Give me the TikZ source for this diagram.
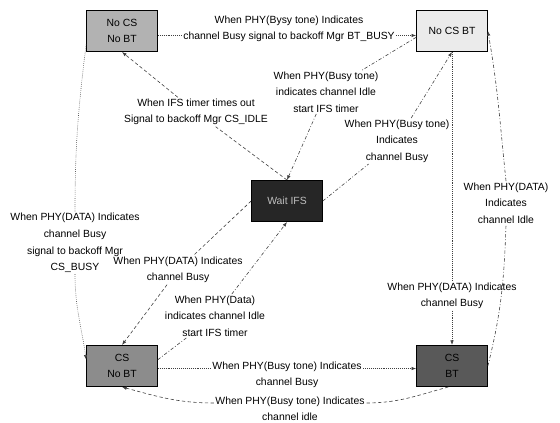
\documentclass[tikz,border=0pt]{standalone}
\usepackage{fontspec}
\setmainfont{Liberation Sans}
\usetikzlibrary{arrows.meta,calc}
\begin{document}
\begin{tikzpicture}[x=0.75pt,y=-0.75pt,
  box/.style={draw=black, line width=0.5pt, minimum width=53.25pt, minimum height=31pt,
    inner sep=0pt, align=center, font=\fontsize{7.8}{12.4}\selectfont},
  lbl/.style={align=center, inner sep=1pt, font=\fontsize{7.8}{12.4}\selectfont},
  con/.style={line width=0.45pt, draw=black!75, -{Latex[length=3.5pt,width=2.6pt]}},
  dt/.style={densely dotted},
  dd/.style={dash pattern=on 2.5pt off 1.5pt on 0.6pt off 1.5pt},
  ds/.style={dash pattern=on 2.5pt off 1.8pt},
]
\useasboundingbox (0,0) rectangle (560,422);

% states
\node[box, fill=black!30] (nn) at (122,31) {No CS\\No BT};
\node[box, fill=black!8] (ncb) at (452,31) {No CS BT};
\node[box, fill=black!85, text=black!25] (wait) at (287,201) {Wait IFS};
\node[box, fill=black!45] (cnb) at (122,366) {CS\\No BT};
\node[box, fill=black!65] (cb) at (452,366) {CS\\BT};

% labels
\node[lbl] (L1) at (289,29) {When PHY(Bysy tone) Indicates\\channel Busy signal to backoff Mgr BT\_BUSY};
\node[lbl] (L2) at (196,112) {When IFS timer times out\\Signal to backoff Mgr CS\_IDLE};
\node[lbl] (L3) at (326,92) {When PHY(Busy tone)\\indicates channel Idle\\start IFS timer};
\node[lbl] (L4) at (397,141) {When PHY(Busy tone)\\Indicates\\channel Busy};
\node[lbl] (L5) at (452,296) {When PHY(DATA) Indicates\\channel Busy};
\node[lbl] (L6) at (506,203) {When PHY(DATA)\\Indicates\\channel Idle};
\node[lbl] (L7) at (75,243) {When PHY(DATA) Indicates\\channel Busy\\signal to backoff Mgr\\CS\_BUSY};
\node[lbl] (L8) at (178,270) {When PHY(DATA) Indicates\\channel Busy};
\node[lbl] (L9) at (215,316) {When PHY(Data)\\indicates channel Idle\\start IFS timer};
\node[lbl] (L10) at (287,375) {When PHY(Busy tone) Indicates\\channel Busy};
\node[lbl] (L11) at (290,409) {When PHY(Busy tone) Indicates\\channel idle};

\coordinate (L1w) at ($(L1.north west)!0.72!(L1.south west)$);
\coordinate (L1e) at ($(L1.north east)!0.72!(L1.south east)$);
\coordinate (L10w) at ($(L10.north west)!0.28!(L10.south west)$);
\coordinate (L10e) at ($(L10.north east)!0.28!(L10.south east)$);
\coordinate (L11w) at ($(L11.north west)!0.28!(L11.south west)$);
\coordinate (L11e) at ($(L11.north east)!0.28!(L11.south east)$);

% connectors
\draw[con,dt,-] (nn.east |- L1w) -- (L1w);
\draw[con,dt] (L1e) -- (ncb.west |- L1e);

\draw[con,ds] (wait.north) -- (L2) -- (nn.south);
\draw[con,dd] (ncb.190) -- (L3) -- (wait.north);
\draw[con,dd] (wait.east) -- (L4) -- (ncb.south);
\draw[con,dt] (ncb.south) -- (L5) -- (cb.north);

\draw[con,dd,-] (cb.east) to[out=76,in=-92] (L6.south);
\draw[con,dd] (L6.north) to[out=96,in=-80] (ncb.east);

\draw[con,dt,-] (nn.200) to[out=-97,in=90] (L7.north);
\draw[con,dt] (L7.south) to[out=-90,in=98] (cnb.170);

\draw[con,ds] (wait.west) -- (L8) -- (cnb.north);
\draw[con,dd] (cnb.10) -- (L9) -- (wait.south);

\draw[con,dt,-] (cnb.east |- L10w) -- (L10w);
\draw[con,dt] (L10e) -- (cb.west |- L10e);

\draw[con,ds,-] (cb.260) to[out=195,in=0] (L11e);
\draw[con,ds] (L11w) to[out=180,in=-15] (cnb.south);
\end{tikzpicture}
\end{document}
